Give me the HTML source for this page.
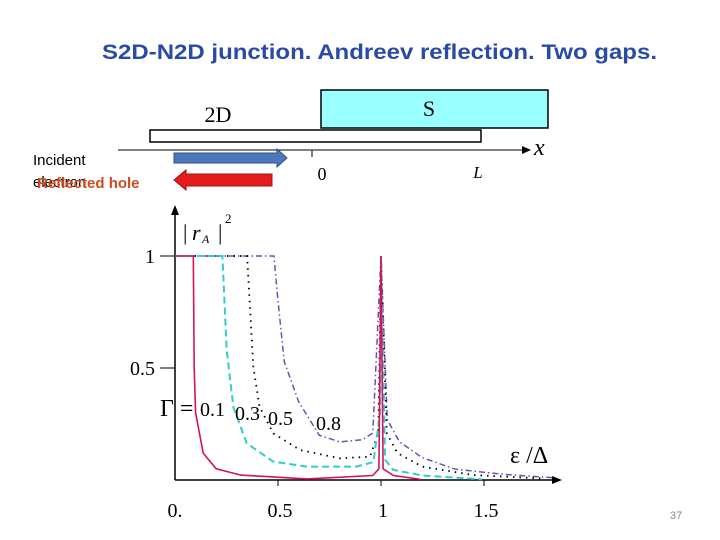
<!DOCTYPE html>
<html><head><meta charset="utf-8"><style>
body{margin:0;width:720px;height:540px;background:#fff;overflow:hidden;font-family:"Liberation Sans",sans-serif}
svg{position:absolute;left:0;top:0}
</style></head><body>
<svg width="720" height="540">
<text x="102" y="59" textLength="555" lengthAdjust="spacingAndGlyphs" font-family="Liberation Sans" font-weight="bold" font-size="21" fill="#2a4aa8">S2D-N2D junction. Andreev reflection. Two gaps.</text>
<g>
<rect x="321" y="90" width="227" height="38" fill="#99ffff" stroke="#000" stroke-width="1.5"/>
<text x="429" y="116" text-anchor="middle" font-family="Liberation Serif" font-size="22">S</text>
<rect x="150" y="130" width="331" height="12" fill="#fff" stroke="#000" stroke-width="1.5"/>
<text x="218" y="122" text-anchor="middle" font-family="Liberation Serif" font-size="22">2D</text>
<line x1="118" y1="150" x2="525" y2="150" stroke="#000" stroke-width="1"/>
<polygon points="531,150 522,146 522,154" fill="#000"/>
<text x="534" y="155" font-family="Liberation Serif" font-style="italic" font-size="24">x</text>
<line x1="312" y1="150" x2="312" y2="157" stroke="#000"/>
<text x="322" y="180" text-anchor="middle" font-family="Liberation Serif" font-size="18">0</text>
<text x="478" y="178" text-anchor="middle" font-family="Liberation Serif" font-style="italic" font-size="17">L</text>
<polygon points="174,153 277,153 277,149 287,158 277,167 277,163 174,163" fill="#4a78b8" stroke="#30508a"/>
<polygon points="272,174 186,174 186,170 174,180 186,190 186,186 272,186" fill="#e51c1c" stroke="#a01010"/>
<text x="33" y="165" font-size="15">Incident</text>
<text x="33" y="187" font-size="15">electron</text>
<text x="37" y="188" font-size="15" font-weight="bold" fill="#d04a20">Reflected hole</text>
</g>
<g id="chart"></g>
<text x="670" y="519" font-size="11" fill="#888">37</text>
</svg>
<script>
const xTicks=[0.5,1,1.5];
const xTickLabels=["0.","0.5","1","1.5"];
const yTicks=[0.5,1];
const yTickLabels=["0.5","1"];
const seriesNames=["0.1","0.3","0.5","0.8"];
const redX=[0,0.089,0.093,0.1,0.137,0.2,0.32,0.64,0.96,0.99,1.0,1.01,1.06,1.19];
const redY=[1,1,0.5,0.3,0.12,0.05,0.022,0.005,0.02,0.05,1.0,0.05,0.02,0.003];
const cyanX=[0,0.23,0.251,0.283,0.348,0.477,0.639,0.88,0.963,0.995,1.0,1.02,1.06,1.2,1.49];
const cyanY=[1,1,0.58,0.327,0.164,0.082,0.06,0.06,0.08,0.3,1.0,0.09,0.045,0.02,0.003];
const dotX=[0,0.35,0.38,0.41,0.477,0.607,0.8,0.946,0.987,1.0,1.028,1.08,1.2,1.45,1.78];
const dotY=[1,1,0.506,0.327,0.208,0.134,0.097,0.104,0.208,1.0,0.208,0.12,0.06,0.022,0.007];
const purX=[0,0.48,0.5,0.53,0.6,0.7,0.8,0.91,0.96,1.0,1.03,1.09,1.2,1.36,1.6,1.84];
const purY=[1,1,0.8,0.53,0.35,0.2,0.17,0.18,0.21,1.0,0.27,0.17,0.1,0.048,0.025,0.01];
const NS="http://www.w3.org/2000/svg";
const g=document.getElementById('chart');
const X=v=>175+v*206, Y=v=>480-v*224;
function mk(t,a,txt){const e=document.createElementNS(NS,t);for(const k in a)e.setAttribute(k,a[k]);if(txt!==undefined)e.textContent=txt;g.appendChild(e);return e;}
let e;
e=mk('line',{x1:175,y1:480,x2:555,y2:480,stroke:'#000','stroke-width':1.5});


mk('polygon',{points:'562,480 552,476 552,484',fill:'#000'});
e=mk('line',{x1:175,y1:480,x2:175,y2:212,stroke:'#000','stroke-width':1.5});


mk('polygon',{points:'175,205 171,215 179,215',fill:'#000'});
xTicks.forEach(v=>{mk('line',{x1:X(v),y1:480,x2:X(v),y2:486,stroke:'#000'});});
const xl=[0,0.5,1,1.5];
xTickLabels.forEach((s,i)=>{e=mk('text',{x:X(xl[i])+(i==0?0:2),y:517,'text-anchor':'middle','font-family':'Liberation Serif','font-size':20},s);

});
yTicks.forEach((v,i)=>{mk('line',{x1:160,y1:Y(v),x2:175,y2:Y(v),stroke:'#000'});
e=mk('text',{x:155,y:Y(v)+7,'text-anchor':'end','font-family':'Liberation Serif','font-size':20},yTickLabels[i]);

});
function line(xs,ys,col,w,dash,name){const d=xs.map((x,i)=>(i?'L':'M')+X(x).toFixed(1)+','+Y(ys[i]).toFixed(1)).join('');
const p=mk('path',{d:d,fill:'none',stroke:col,'stroke-width':w});if(dash)p.setAttribute('stroke-dasharray',dash);

}
line(purX,purY,'#6a50b4',1.5,'6,3,1.5,3','series-gamma-0.8');
line(dotX,dotY,'#000',1.8,'1.5,5','series-gamma-0.5');
line(cyanX,cyanY,'#33cccc',2,'7,4','series-gamma-0.3');
line(redX,redY,'#d4145a',1.6,null,'series-gamma-0.1');
e=mk('text',{x:183,y:240,'font-family':'Liberation Serif','font-size':22},'|');
e=mk('text',{x:192,y:240,'font-family':'Liberation Serif','font-style':'italic','font-size':22},'r');
mk('text',{x:202,y:243,'font-family':'Liberation Serif','font-style':'italic','font-size':12},'A');
mk('text',{x:218,y:240,'font-family':'Liberation Serif','font-size':22},'|');
e=mk('text',{x:225,y:223,'font-family':'Liberation Serif','font-size':13},'2');


e=mk('text',{x:160,y:416,'font-family':'Liberation Serif','font-size':24},'Γ =');


const lx=[200,235,268,316],ly=[416,420,425,430];
seriesNames.forEach((s,i)=>{e=mk('text',{x:lx[i],y:ly[i],'font-family':'Liberation Serif','font-size':20},s);

});
e=mk('text',{x:510,y:463,'font-family':'Liberation Serif','font-size':24},'ε /Δ');


</script>
</body></html>
